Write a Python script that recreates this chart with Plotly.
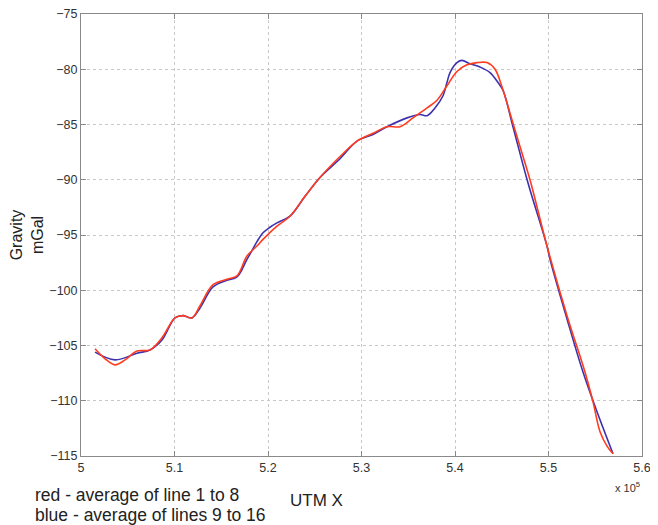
import plotly.graph_objects as go

# UTM X (metres) and gravity (mGal)
blue_x = [501500, 503640, 505990, 507380, 508660, 510050, 510910, 511870, 512730,
          514120, 515620, 516680, 517750, 518300, 518820, 519470, 520200, 520960,
          522350, 523960, 525560, 527700, 529520, 531230, 532730, 534870, 536260,
          537010, 537860, 538720, 539140, 539470, 540210, 540750, 541600, 542670,
          543740, 544600, 545130, 546200, 547810, 549840, 550160, 551980, 553690,
          555190, 556900]
blue_y = [-105.6, -106.3, -105.7, -105.4, -104.5, -102.5, -102.3, -102.5, -101.6,
          -99.7, -99.1, -98.8, -97.2, -96.4, -95.6, -94.8, -94.3, -93.9,
          -93.3, -91.5, -89.8, -88.1, -86.5, -85.9, -85.2, -84.4, -84.1,
          -84.2, -83.5, -82.4, -81.2, -80.3, -79.4, -79.2, -79.5, -79.8,
          -80.3, -81.2, -81.9, -85.2, -90.3, -96.0, -97.2, -102.6, -107.4,
          -111.0, -114.8]

red_x = [501500, 502570, 503640, 504710, 505990, 507380, 508660, 510050, 510910,
         511870, 512730, 514120, 515620, 516680, 517750, 518820, 519470, 520960,
         522350, 523960, 525560, 527700, 529520, 531230, 532730, 534120, 535510,
         537010, 538080, 539140, 540210, 541280, 542350, 543420, 544280, 545030,
         546100, 546950, 548020, 549840, 551980, 553900, 554760, 555510, 556260,
         556900]
red_y = [-105.3, -106.2, -106.75, -106.3, -105.5, -105.4, -104.3, -102.5, -102.3,
         -102.5, -101.4, -99.5, -99.0, -98.7, -96.9, -96.0, -95.4, -94.2,
         -93.3, -91.5, -89.8, -87.9, -86.5, -85.8, -85.2, -85.2, -84.4,
         -83.5, -82.8, -81.5, -80.2, -79.6, -79.4, -79.4, -80.0, -81.6,
         -84.6, -87.0, -90.0, -96.0, -102.3, -107.4, -110.1, -112.8, -114.1,
         -114.8]

x_tickvals = [500000, 510000, 520000, 530000, 540000, 550000, 560000]
x_ticktext = ["5", "5.1", "5.2", "5.3", "5.4", "5.5", "5.6"]
y_tickvals = [-115, -110, -105, -100, -95, -90, -85, -80, -75]

FONT = "Liberation Sans, Arial, sans-serif"

fig = go.Figure()
fig.add_trace(go.Scatter(x=blue_x, y=blue_y, mode="lines",
                         line=dict(color="rgb(60,50,175)", width=1.6, shape="spline", smoothing=1.0),
                         showlegend=False))
fig.add_trace(go.Scatter(x=red_x, y=red_y, mode="lines",
                         line=dict(color="rgb(255,60,30)", width=1.6, shape="spline", smoothing=1.0),
                         showlegend=False))

axis_common = dict(
    showline=True, linecolor="#8a8a8a", linewidth=1, mirror="allticks",
    ticks="inside", ticklen=5, tickcolor="#8a8a8a",
    showgrid=True, gridcolor="#c8c8c8", griddash="dot", gridwidth=1,
    zeroline=False, automargin=False, ticklabeloverflow="allow",
    tickfont=dict(family=FONT, size=12.5, color="#333333"),
)

fig.update_xaxes(range=[500000, 560000], tickvals=x_tickvals, ticktext=x_ticktext, **axis_common)
fig.update_yaxes(range=[-115, -75], tickvals=y_tickvals, **axis_common)

# page body has an 8px margin, so the figure is sized 650x517 to fill the window
fig.update_layout(
    width=650, height=517, autosize=False,
    margin=dict(l=73, r=16, t=6, b=69, pad=0),
    paper_bgcolor="white", plot_bgcolor="white",
    font=dict(family=FONT, size=14, color="#222"),
    yaxis_title=dict(text="Gravity<br>mGal", font=dict(family=FONT, size=16, color="#222"), standoff=8),
    annotations=[
        dict(text="UTM X", xref="paper", yref="paper", x=0.42, y=-0.1,
             xanchor="center", yanchor="middle", showarrow=False,
             font=dict(family=FONT, size=17, color="#222")),
        dict(text="x 10<sup>5</sup>", xref="paper", yref="paper", x=1.0, y=-0.07,
             xanchor="right", yanchor="middle", showarrow=False,
             font=dict(family=FONT, size=11, color="#333333")),
        dict(text="red - average of line 1 to 8", xref="paper", yref="paper",
             x=-0.085, y=-0.088, xanchor="left", yanchor="middle", showarrow=False,
             font=dict(family=FONT, size=17.5, color="#222")),
        dict(text="blue - average of lines 9 to 16", xref="paper", yref="paper",
             x=-0.085, y=-0.133, xanchor="left", yanchor="middle", showarrow=False,
             font=dict(family=FONT, size=17.5, color="#222")),
    ],
)

fig.write_html("out.html")
